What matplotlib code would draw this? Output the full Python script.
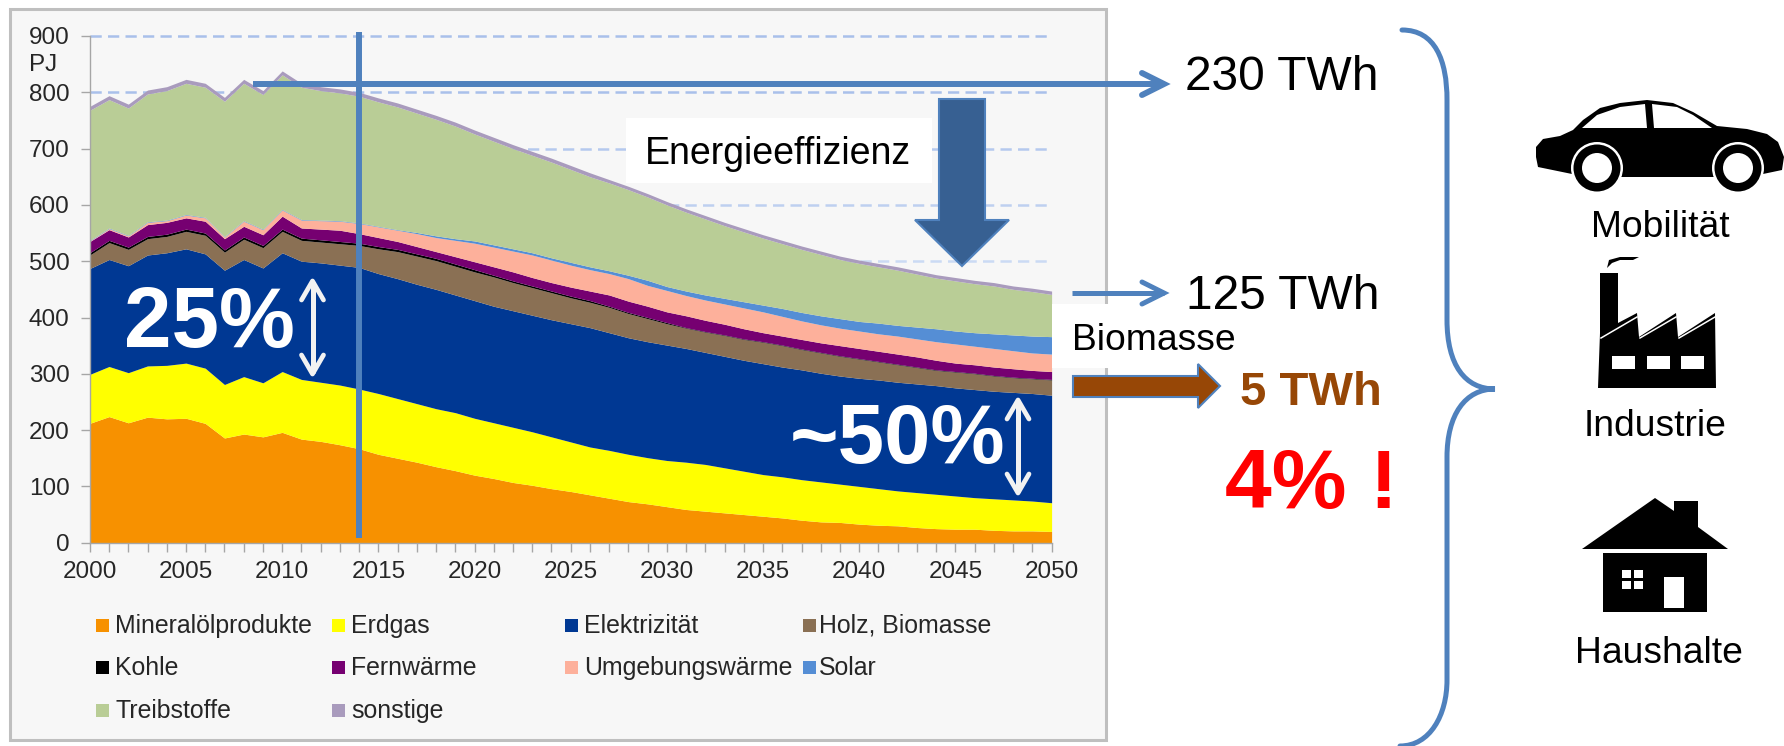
import matplotlib
matplotlib.use("Agg")
import matplotlib.pyplot as plt
from matplotlib.patches import Rectangle, Polygon, Circle, PathPatch
from matplotlib.path import Path

plt.rcParams["font.family"] = ["Liberation Sans", "DejaVu Sans"]

years = list(range(2000, 2051))

# cumulative tops of the stacked areas (PJ)
oel_top = [212, 224, 213, 223, 220, 221, 212, 186, 193, 188, 196, 184, 180, 174, 167, 157, 150, 143, 135, 128,
           120, 114, 107, 102, 96, 91, 85, 79, 73, 69, 64, 59, 56, 53, 50, 47, 44, 40, 37, 36,
           33, 31, 30, 27, 25, 24, 24, 22, 21, 21, 20]
gas_top = [299, 313, 302, 314, 315, 319, 310, 281, 295, 284, 304, 290, 285, 280, 273, 265, 256, 247, 238, 231,
           221, 213, 205, 197, 188, 179, 170, 164, 157, 151, 146, 143, 139, 133, 127, 121, 117, 112, 108, 104,
           100, 96, 92, 89, 86, 83, 80, 78, 76, 74, 71]
strom_top = [487, 503, 492, 511, 515, 522, 513, 484, 503, 488, 515, 500, 497, 493, 489, 478, 469, 459, 450, 440,
             430, 420, 412, 404, 396, 389, 382, 373, 364, 357, 351, 345, 338, 331, 324, 318, 312, 307, 301, 296,
             292, 289, 285, 282, 279, 275, 272, 269, 267, 265, 262]
holz_top = [511, 533, 521, 540, 544, 553, 546, 516, 539, 524, 553, 537, 534, 531, 528, 522, 517, 509, 501, 491,
            481, 472, 462, 453, 444, 435, 427, 418, 407, 398, 389, 381, 374, 368, 361, 356, 350, 343, 337, 331,
            326, 321, 316, 311, 306, 303, 300, 296, 293, 291, 289]
kohle_top = [515, 537, 525, 544, 548, 557, 550, 520, 543, 528, 557, 541, 538, 535, 532, 526, 521, 513, 505, 495,
             485, 475, 465, 456, 447, 438, 430, 420, 409, 400, 391, 382, 375, 369, 362, 357, 351, 344, 338, 332,
             327, 322, 317, 312, 307, 304, 301, 297, 294, 292, 290]
fern_top = [535, 556, 543, 565, 569, 577, 571, 540, 562, 547, 580, 559, 557, 555, 549, 542, 535, 526, 517, 508,
            499, 490, 481, 471, 462, 454, 447, 440, 429, 420, 410, 403, 395, 388, 380, 373, 367, 361, 355, 350,
            345, 340, 335, 330, 324, 319, 316, 312, 309, 306, 304]
umwelt_top = [536, 558, 545, 569, 572, 582, 577, 543, 571, 556, 591, 573, 572, 571, 567, 561, 555, 549, 542, 537,
              532, 525, 518, 511, 502, 493, 485, 478, 469, 457, 448, 439, 431, 424, 417, 410, 402, 394, 387, 381,
              376, 371, 367, 362, 357, 353, 349, 345, 341, 337, 335]
solar_top = [537, 559, 546, 570, 573, 583, 578, 544, 572, 557, 592, 574, 573, 572, 568, 562, 556, 551, 545, 540,
             536, 529, 522, 515, 506, 498, 490, 483, 475, 466, 455, 447, 440, 434, 428, 422, 416, 409, 403, 398,
             393, 390, 386, 383, 380, 376, 373, 371, 369, 367, 366]
treib_top = [768, 787, 772, 797, 803, 816, 809, 784, 816, 796, 831, 809, 803, 799, 793, 783, 774, 763, 752, 740,
             726, 713, 700, 688, 676, 663, 650, 639, 627, 614, 600, 587, 575, 563, 552, 541, 531, 521, 512, 503,
             496, 490, 484, 477, 470, 465, 460, 456, 450, 446, 441]
sonstige_top = [775, 794, 779, 804, 810, 823, 816, 791, 823, 803, 838, 816, 810, 806, 800, 790, 781, 770, 759, 747,
                733, 720, 707, 695, 683, 670, 657, 645, 633, 620, 606, 593, 581, 569, 558, 547, 537, 527, 518, 509,
                502, 496, 490, 483, 476, 471, 466, 462, 456, 452, 447]

series_names = ["Mineralölprodukte", "Erdgas", "Elektrizität", "Holz, Biomasse", "Kohle", "Fernwärme",
                "Umgebungswärme", "Solar", "Treibstoffe", "sonstige"]
series_tops = [oel_top, gas_top, strom_top, holz_top, kohle_top, fern_top, umwelt_top, solar_top, treib_top,
               sonstige_top]
series_colors = ["#f79100", "#ffff00", "#003893", "#8a7054", "#000000", "#760071", "#fdb09b", "#558ed5",
                 "#b9cd96", "#a99bbd"]

grid_values = [500, 600, 700, 800, 900]
grid_colors = ["#cbdaf4", "#bed0f0", "#b5c9ee", "#a9c0ea", "#a9c0ea"]

W, H = 1784, 746
BLUE = "#4f81bd"

fig = plt.figure(figsize=(W / 100, H / 100), dpi=100, facecolor="white")

# -------- Panel behind the chart --------
ax_bg = fig.add_axes([0, 0, 1, 1], zorder=0)
ax_bg.set_xlim(0, W)
ax_bg.set_ylim(H, 0)
ax_bg.axis("off")
ax_bg.add_patch(Rectangle((10, 9), 1096, 731, facecolor="#f7f7f7", edgecolor="#bfbfbf", linewidth=2.2))

# -------- Stacked areas --------
left, right, top, bottom = 89.8, 1051.6, 36, 542.7
ax = fig.add_axes([left / W, 1 - bottom / H, (right - left) / W, (bottom - top) / H], zorder=1)
ax.patch.set_alpha(0)
ax.set_xlim(2000, 2050)
ax.set_ylim(0, 900)

for val, col in zip(grid_values, grid_colors):
    ax.plot([2000, 2050], [val, val], color=col, linewidth=1.8, dashes=(4.5, 2.5), zorder=1, clip_on=False)

lower = [0] * len(years)
for tops, col in zip(series_tops, series_colors):
    ax.fill_between(years, lower, tops, color=col, linewidth=0, zorder=2)
    lower = tops

for side in ["top", "right"]:
    ax.spines[side].set_visible(False)
for side in ["left", "bottom"]:
    ax.spines[side].set_color("#a6a6a6")
    ax.spines[side].set_linewidth(1.0)

ax.set_yticks(range(0, 901, 100))
ax.set_xticks(range(2000, 2051, 5))
ax.set_xticks(years, minor=True)
ax.tick_params(axis="both", which="both", color="#a6a6a6", width=1.0, length=6.5, direction="out",
               labelsize=17.5, labelcolor="#262626")
ax.tick_params(axis="x", pad=7)
ax.tick_params(axis="y", pad=8)

# -------- Everything drawn over the chart, in pixel coordinates --------
ov = fig.add_axes([0, 0, 1, 1], zorder=2)
ov.set_xlim(0, W)
ov.set_ylim(H, 0)
ov.axis("off")
ov.patch.set_alpha(0)

ov.text(43, 65, "PJ", fontsize=17.5, color="#262626", ha="center", va="center")

# legend
legend_x = [96, 332, 565, 803]
legend_text_x = [115, 351, 584, 819]
legend_y = [626, 668, 711]
legend_cells = [(0, 0), (1, 0), (2, 0), (3, 0), (0, 1), (1, 1), (2, 1), (3, 1), (0, 2), (1, 2)]
for name, col, (c, r) in zip(series_names, series_colors, legend_cells):
    ov.add_patch(Rectangle((legend_x[c], legend_y[r] - 7), 13, 13, facecolor=col, edgecolor="none"))
    ov.text(legend_text_x[c], legend_y[r], name, fontsize=17.9, color="#262626", ha="left", va="center")

# white boxes
ov.add_patch(Rectangle((626, 118), 306, 65, facecolor="white", edgecolor="none", zorder=2))
ov.add_patch(Rectangle((1052, 304), 190, 64, facecolor="white", edgecolor="none", zorder=2))


def open_arrow(x0, x1, y, lw):
    ov.plot([x0, x1], [y, y], color=BLUE, linewidth=lw, solid_capstyle="butt", zorder=4)
    ov.plot([x1 - 22, x1, x1 - 22], [y - 11, y, y + 11], color=BLUE, linewidth=lw, solid_capstyle="round",
            solid_joinstyle="miter", zorder=4)


open_arrow(253, 1164, 84, 4.3)
open_arrow(1072, 1164, 293, 3.6)
ov.plot([358.5, 358.5], [32, 538], color=BLUE, linewidth=4.3, solid_capstyle="butt", zorder=4)

# efficiency arrow
ov.add_patch(Polygon([(939, 99), (985, 99), (985, 220), (1009, 220), (962, 266), (915, 220), (939, 220)],
                     facecolor="#376092", edgecolor=BLUE, linewidth=1.5, zorder=4))
# biomass arrow
ov.add_patch(Polygon([(1073, 376), (1198, 376), (1198, 364), (1220, 386), (1198, 408), (1198, 397), (1073, 397)],
                     facecolor="#974706", edgecolor=BLUE, linewidth=1.5, zorder=4))


def double_arrow(x, y0, y1):
    ov.plot([x, x], [y0 + 4, y1 - 4], color="#f2f2f2", linewidth=3.6, solid_capstyle="butt", zorder=4)
    ov.plot([x - 11, x, x + 11], [y0 + 22, y0 + 3, y0 + 22], color="#f2f2f2", linewidth=3.4,
            solid_capstyle="round", zorder=4)
    ov.plot([x - 11, x, x + 11], [y1 - 22, y1 - 3, y1 - 22], color="#f2f2f2", linewidth=3.4,
            solid_capstyle="round", zorder=4)


double_arrow(312.5, 278, 377)
double_arrow(1018, 397, 496)

ov.text(124, 347, "25%", fontsize=61.5, fontweight="bold", color="white", va="baseline", zorder=5)
ov.text(790, 463, "~50%", fontsize=60, fontweight="bold", color="white", va="baseline", zorder=5)
ov.text(645, 164, "Energieeffizienz", fontsize=27, color="black", va="baseline", zorder=5)
ov.text(1072, 350, "Biomasse", fontsize=26.8, color="black", va="baseline", zorder=5)
ov.text(1185, 90, "230 TWh", fontsize=34.5, color="black", va="baseline", zorder=5)
ov.text(1186, 309, "125 TWh", fontsize=34.5, color="black", va="baseline", zorder=5)
ov.text(1240, 405, "5 TWh", fontsize=34, fontweight="bold", color="#974706", va="baseline", zorder=5)
ov.text(1225, 508, "4% !", fontsize=60.5, fontweight="bold", color="#ff0000", va="baseline", zorder=5)
ov.text(1660, 237, "Mobilität", fontsize=26.8, color="black", ha="center", va="baseline")
ov.text(1655, 436, "Industrie", fontsize=26.8, color="black", ha="center", va="baseline")
ov.text(1659, 663, "Haushalte", fontsize=26.8, color="black", ha="center", va="baseline")

# curly brace
brace = Path(
    [(1402, 30), (1435, 30), (1447, 60), (1447, 100), (1447, 320),
     (1447, 365), (1465, 389), (1495, 389),
     (1465, 389), (1447, 415), (1447, 457), (1447, 680),
     (1447, 715), (1430, 746), (1400, 746)],
    [Path.MOVETO, Path.CURVE4, Path.CURVE4, Path.CURVE4, Path.LINETO,
     Path.CURVE4, Path.CURVE4, Path.CURVE4,
     Path.CURVE4, Path.CURVE4, Path.CURVE4, Path.LINETO,
     Path.CURVE4, Path.CURVE4, Path.CURVE4])
ov.add_patch(PathPatch(brace, facecolor="none", edgecolor=BLUE, linewidth=3.6, capstyle="round"))

# car icon
ov.add_patch(Polygon([(1536, 147), (1543, 139), (1560, 136), (1573, 130), (1583, 120), (1600, 108), (1620, 103),
                      (1647, 100), (1673, 103), (1693, 112), (1717, 126), (1747, 129), (1767, 134), (1778, 142),
                      (1784, 157), (1782, 170), (1763, 174), (1730, 177), (1620, 177), (1572, 174), (1538, 167),
                      (1536, 157)], facecolor="black", edgecolor="none"))
ov.add_patch(Polygon([(1582, 128), (1597, 115), (1620, 107), (1645, 104), (1647, 128)], facecolor="white",
                     edgecolor="none"))
ov.add_patch(Polygon([(1652, 104), (1677, 107), (1693, 115), (1712, 128), (1654, 128)], facecolor="white",
                     edgecolor="none"))
for cx in [1597, 1738]:
    ov.add_patch(Circle((cx, 168), 26, facecolor="white", edgecolor="none"))
    ov.add_patch(Circle((cx, 168), 23.5, facecolor="black", edgecolor="none"))
    ov.add_patch(Circle((cx, 168), 15, facecolor="white", edgecolor="none"))

# factory icon
ov.add_patch(Polygon([(1598, 388), (1600, 333), (1600, 273), (1618, 273), (1618, 323), (1637, 313), (1639, 337),
                      (1676, 313), (1678, 337), (1715, 313), (1716, 388)], facecolor="black", edgecolor="none"))
ov.add_patch(Polygon([(1607, 268), (1609, 260), (1620, 257), (1639, 257), (1633, 260), (1620, 260), (1612, 263)],
                     facecolor="black", edgecolor="none"))
for x0 in [1601, 1640, 1679]:
    ov.plot([x0, x0 + 36], [338, 317], color="white", linewidth=1.1)
for x0 in [1612, 1647, 1681]:
    ov.add_patch(Rectangle((x0, 356), 23, 13, facecolor="white", edgecolor="none"))

# house icon
ov.add_patch(Polygon([(1582, 549), (1655, 498), (1674, 511), (1674, 501), (1698, 501), (1698, 527), (1728, 549)],
                     facecolor="black", edgecolor="none"))
ov.add_patch(Rectangle((1603, 553), 104, 59, facecolor="black", edgecolor="none"))
for wx in [1622, 1634]:
    for wy in [570, 581]:
        ov.add_patch(Rectangle((wx, wy), 8.5, 8, facecolor="white", edgecolor="none"))
ov.add_patch(Rectangle((1664, 577), 20, 31, facecolor="white", edgecolor="none"))

fig.savefig("out.png", dpi=100)
